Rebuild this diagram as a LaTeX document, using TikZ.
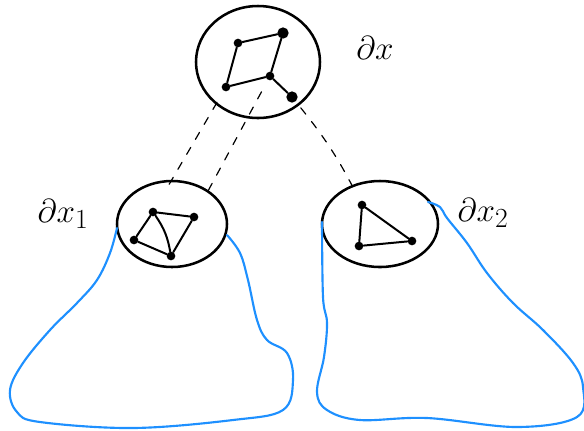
\documentclass[tikz,border=0pt]{standalone}
\usepackage{amsmath,amssymb}
\usepackage{tikz}
\usepackage{xcolor}
\usetikzlibrary{shapes.geometric}
\definecolor{sketchblue}{RGB}{30,144,255}

\begin{document}
\begin{tikzpicture}[x=0.75pt, y=-0.75pt, line cap=round, line join=round,
    every node/.style={font=\fontsize{32}{32}\selectfont},
    bag/.style={draw, ellipse, line width=1.9pt, inner sep=0pt},
    vtx/.style={circle, fill, inner sep=0pt, minimum size=6.5pt},
    gline/.style={line width=1.5pt},
    link/.style={dash pattern=on 6pt off 7pt, line width=0.9pt},
    hull/.style={sketchblue, line width=1.6pt}]
    \useasboundingbox (0,0) rectangle (584,430);

    % Bags
    \node[bag, minimum width=93pt, minimum height=84pt] (top) at (258,62) {};
    \node[bag, minimum width=82.5pt, minimum height=64.5pt] (left) at (172,224) {};
    \node[bag, minimum width=87pt, minimum height=64.5pt] (right) at (380,224) {};

    % Labels
    \node (ltop) at (375,48) {$\partial x$};
    \node (lleft) at (63,214) {$\partial x_1$};
    \node (lright) at (483,213) {$\partial x_2$};

    % Top graph
    \node[vtx] (t1) at (238,43) {};
    \node[vtx, minimum size=8.5pt] (t2) at (283,33) {};
    \node[vtx] (t3) at (270,76) {};
    \node[vtx] (t4) at (226,87) {};
    \node[vtx, minimum size=8.5pt] (t5) at (292,97) {};
    \foreach \a/\b in {t1/t2, t1/t4, t4/t3, t2/t3, t3/t5} {
        \draw[gline] (\a) -- (\b);
    }

    % Left graph
    \node[vtx] (l1) at (153,212) {};
    \node[vtx] (l2) at (194,217) {};
    \node[vtx] (l3) at (134,240) {};
    \node[vtx] (l4) at (171,256) {};
    \foreach \a/\b in {l1/l2, l1/l3, l3/l4, l2/l4} {
        \draw[gline] (\a) -- (\b);
    }
    \draw[gline] (l1) to[bend left=12] (l4);

    % Right graph
    \node[vtx] (r1) at (362,205) {};
    \node[vtx] (r2) at (359,246) {};
    \node[vtx] (r3) at (412,241) {};
    \foreach \a/\b in {r1/r2, r1/r3, r2/r3} {
        \draw[gline] (\a) -- (\b);
    }

    % Dashed links between bags
    \draw[link, shorten <=10pt, shorten >=14pt] (t4) -- (l1);
    \draw[link, shorten <=10pt, shorten >=13pt] (t3) -- (l2);
    \draw[link, shorten <=6pt, shorten >=7pt] (t5) to[bend left=6] (r1);

    % Subtrees
    \draw[hull] plot[smooth, tension=0.6] coordinates {(117,228) (110,253) (97,280) (77,303)
        (50,330) (23,363) (10,390) (17,412) (40,422) (133,428) (233,420) (283,410)
        (293,380) (287,353) (267,340) (257,320) (248,280) (240,253) (227,235)};
    \draw[hull] plot[smooth, tension=0.6] coordinates {(322,222) (323,297) (327,323) (324,357)
        (317,392) (327,410) (360,420) (427,418) (517,427) (577,417) (583,387) (573,363)
        (543,330) (513,303) (487,273) (467,243) (447,218) (440,207) (428,202)};
\end{tikzpicture}
\end{document}
